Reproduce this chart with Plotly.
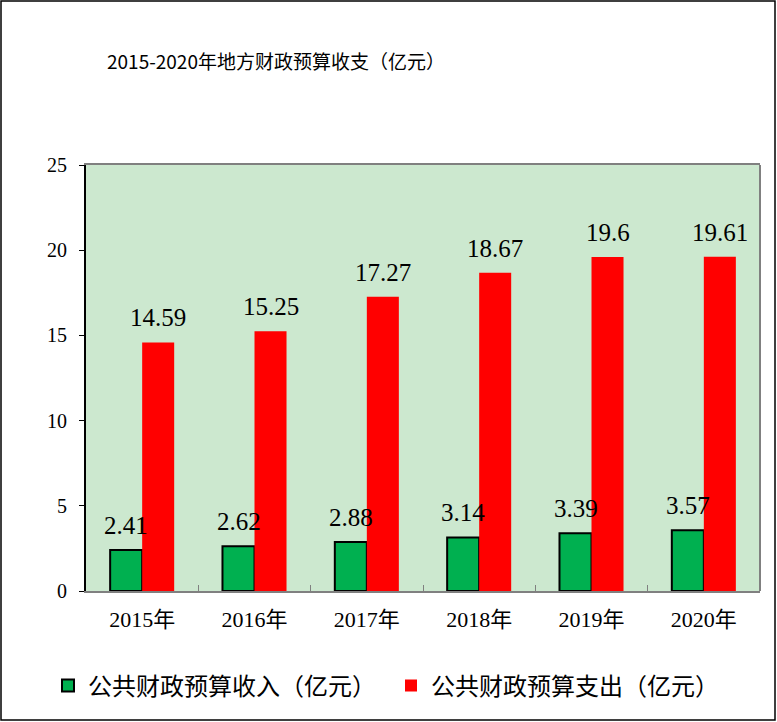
import plotly.graph_objects as go

years = ["2015年", "2016年", "2017年", "2018年", "2019年", "2020年"]
income = [2.41, 2.62, 2.88, 3.14, 3.39, 3.57]
spending = [14.59, 15.25, 17.27, 18.67, 19.6, 19.61]
income_name = "公共财政预算收入（亿元）"
spending_name = "公共财政预算支出（亿元）"
title_text = "2015-2020年地方财政预算收支（亿元）"

W, H = 777, 722
L, R, T, B = 86, 17, 165, 131
pw, ph = W - L - R, H - T - B

font = "Liberation Serif, Noto Sans CJK SC, serif"

fig = go.Figure()
fig.add_trace(go.Bar(x=years, y=income, name=income_name,
                     marker=dict(color="#00B050", line=dict(color="black", width=2))))
fig.add_trace(go.Bar(x=years, y=spending, name=spending_name,
                     marker=dict(color="#FF0000", line=dict(width=0))))

# value labels above each bar
for yr, v in zip(years, income):
    fig.add_annotation(x=yr, y=v, text=str(v), xshift=-16, yshift=9,
                       yanchor="bottom", showarrow=False,
                       font=dict(family=font, size=25, color="black"))
for yr, v in zip(years, spending):
    fig.add_annotation(x=yr, y=v, text=str(v), xshift=16, yshift=9,
                       yanchor="bottom", showarrow=False,
                       font=dict(family=font, size=25, color="black"))

# right edge of plot area
fig.add_shape(type="line", xref="paper", yref="paper", x0=1, x1=1, y0=0, y1=1,
              line=dict(color="#808080", width=2))
# outer frame
fig.add_shape(type="rect", xref="paper", yref="paper",
              x0=(1 - L) / pw, x1=(W - 2 - L) / pw,
              y0=-(H - 2 - T - ph) / ph, y1=(ph + T - 1) / ph,
              line=dict(color="black", width=1.5), layer="above")

fig.update_layout(
    width=W, height=H,
    margin=dict(l=L, r=R, t=T, b=B),
    paper_bgcolor="white",
    plot_bgcolor="#CCE8CF",
    barmode="group",
    bargap=0.43,
    bargroupgap=0,
    title=dict(text=title_text, x=107 / W, xanchor="left", y=1 - 62 / H, yanchor="middle",
               font=dict(family="Noto Sans CJK SC, sans-serif", size=19, color="black")),
    showlegend=True,
    legend=dict(orientation="h", x=(48 - L) / pw, xanchor="left",
                y=-(686 - T - ph) / ph, yanchor="middle",
                entrywidth=298, entrywidthmode="pixels",
                font=dict(family="Noto Sans CJK SC, sans-serif", size=24, color="black"),
                bgcolor="rgba(0,0,0,0)"),
    font=dict(family=font, color="black"),
)
fig.update_xaxes(showline=True, linecolor="#808080", linewidth=2, mirror=True,
                 ticks="inside", ticklen=6, tickcolor="#808080",
                 tickson="boundaries", showgrid=False, ticklabelstandoff=8,
                 tickfont=dict(family=font, size=22, color="black"))
fig.update_yaxes(range=[0, 25], dtick=5, showline=True, linecolor="black", linewidth=2,
                 ticks="outside", ticklen=5, tickcolor="black",
                 showgrid=False, zeroline=False, ticklabelstandoff=8,
                 tickfont=dict(family=font, size=20, color="black"))

fig.write_html("out.html", config={"displayModeBar": False},
               post_script="document.body.style.margin='0';")
